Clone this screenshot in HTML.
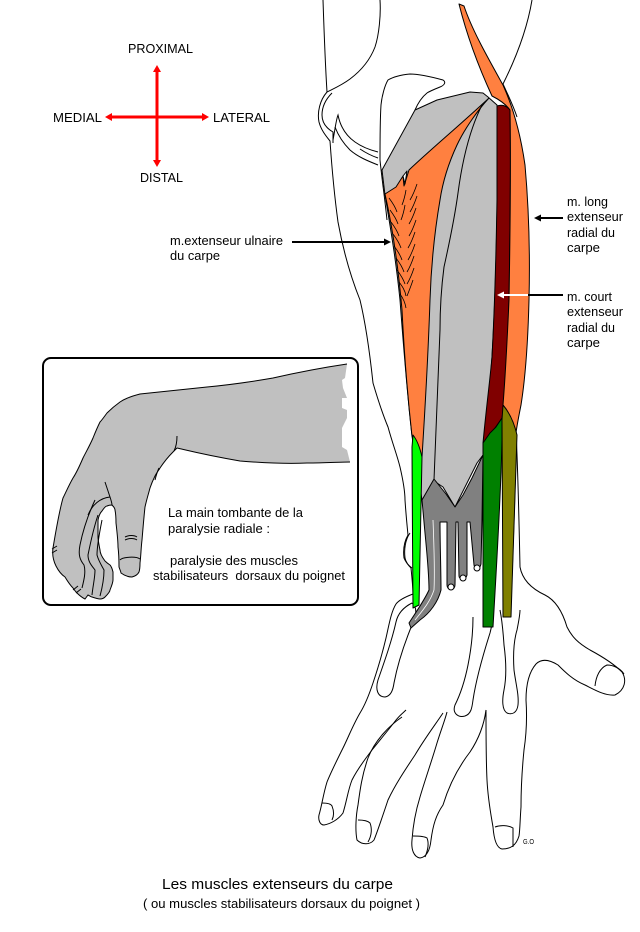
<!DOCTYPE html>
<html><head><meta charset="utf-8"><style>
html,body{margin:0;padding:0;background:#fff;}
svg{display:block;}
text{font-family:"Liberation Sans",Arial,sans-serif;fill:#000;}
</style></head><body>
<svg width="640" height="932" viewBox="0 0 640 932" xmlns="http://www.w3.org/2000/svg">
<rect width="640" height="932" fill="#fff"/>

<!-- compass -->
<g fill="#ff0000">
<rect x="155.5" y="70" width="3" height="92"/>
<rect x="110" y="115.5" width="94" height="3"/>
<polygon points="157,65 153,72 161,72"/>
<polygon points="157,167 153,160 161,160"/>
<polygon points="105,117 112,113 112,121"/>
<polygon points="209,117 202,113 202,121"/>
</g>
<text x="128" y="53" font-size="13" textLength="65" lengthAdjust="spacingAndGlyphs">PROXIMAL</text>
<text x="53" y="122" font-size="13" textLength="49" lengthAdjust="spacingAndGlyphs">MEDIAL</text>
<text x="213" y="122" font-size="13" textLength="57" lengthAdjust="spacingAndGlyphs">LATERAL</text>
<text x="140" y="182" font-size="13" textLength="43" lengthAdjust="spacingAndGlyphs">DISTAL</text>

<!-- line drawing: arm/hand outline -->
<g fill="none" stroke="#000" stroke-width="1">
<path d="M323,0 C324,30 325,60 327,92"/>
<path d="M380,0 C381,15 379,35 375,47 C370,60 362,70 350,79 C342,85 335,88 327,92 C320,100 317,112 319,122 C321,130 326,136 330,141 C332,170 335,200 338,222 C344,255 352,280 360,300 C366,325 370,355 373,383 C378,400 383,415 388,427 C393,445 397,455 400,467 C403,480 405,490 405,500 C406,515 407,525 408,535 C404,542 403,550 404,558 C406,563 409,566 411,568 C412,578 413,588 413,594 C405,597 399,600 396,604 C391,612 389,625 386,638 C382,655 378,668 373,683 C369,695 365,705 360,713 C353,725 348,738 343,748 C337,760 331,772 327,782 C323,795 322,805 319,815 C318,820 320,825 324,825 C330,824 338,820 343,813 C347,800 348,790 352,780 C358,768 366,758 372,750 C380,740 390,728 396,720 C400,715 404,712 406,710"/>
<path d="M410,533 C405,540 404,550 405,558 C406,563 409,566 412,568"/>
<path d="M332,93 C325,100 322,107 322,115 C322,123 326,128 333,132 L333,143"/>
<path d="M333,140 C335,130 336,120 338,115 C340,125 345,135 355,142 C362,147 370,150 378,152"/>
<path d="M335,127 C338,135 342,142 350,150 C358,157 368,161 378,165"/>
<path d="M360,149 C366,153 372,156 378,158"/>
<path d="M387,220 C385,200 382,180 380,160 C380,140 380,120 381,105 C382,95 385,85 388,80 C393,77 400,75 410,74 C420,74 432,77 443,80 C446,82 445,85 440,87 C435,89 430,91 427,93 C422,97 418,103 415,110"/>
<path d="M532,0 C527,30 515,60 503,84 C508,95 513,105 517,117"/>
<path d="M516,432 C518,470 519,520 520,567 C522,578 530,588 545,595 C555,600 562,610 567,627 C572,637 578,643 590,650 C603,657 615,665 622,672 C627,680 625,690 615,695 C605,696 595,690 585,685 C573,680 565,672 558,665 C550,660 542,658 536,664 C529,672 526,685 526,700 C527,715 527,730 524,750 C522,770 521,790 521,807 C520,820 520,830 519,836 C516,846 510,849 502,849 C497,848 494,840 493,827 C491,815 488,800 487,780 C486,760 486,735 486,710"/>
<path d="M486,710 C484,725 478,740 470,752 C460,765 450,782 443,805 C436,815 433,825 431,840 C430,850 427,857 420,858 C414,857 411,850 412,840 C413,825 416,810 420,797 C425,780 432,760 437,743 C441,730 445,720 447,712"/>
<path d="M443,713 C435,725 425,738 415,755 C405,770 395,785 388,800 C383,815 378,830 374,840 C370,845 362,845 357,840 C355,830 356,815 358,805 C360,790 362,775 368,758 C375,740 390,725 402,717"/>
<!-- nails -->
<path d="M322,803 C327,803 331,804 332,806 C334,811 334,816 332,820"/>
<path d="M358,820 C363,820 368,821 370,823 C372,828 372,835 368,842"/>
<path d="M413,836 C418,836 424,836 427,838 C429,843 428,850 425,857"/>
<path d="M495,827 C500,825 508,825 513,828 L513,847"/>
<path d="M595,686 C596,676 600,668 607,665 C613,665 620,668 624,674"/>
<!-- metacarpals -->
<path d="M412,603 C404,607 398,613 396,622 C392,640 385,660 378,680 C375,690 378,697 385,697 C391,696 393,690 394,683 C398,662 405,642 412,625 C416,616 418,608 412,603"/>
<path d="M473,617 C473,630 472,645 468,665 C465,680 460,695 455,705 C452,713 458,718 465,716 C471,714 472,708 473,700 C476,680 483,655 490,633 C492,625 493,620 492,615"/>
<path d="M500,610 C502,620 503,630 504,645 C506,660 507,675 504,690 C502,700 502,710 507,713 C512,715 517,713 518,705 C519,695 516,685 514,670 C513,655 514,640 517,630 C519,620 520,614 520,610"/>
</g>

<!-- muscles -->
<g stroke="#000" stroke-width="1" stroke-linejoin="round">
<!-- light gray base -->
<path fill="#c0c0c0" d="M415,110 L437,100 L470,92 L483,93 L488,97 L497,105 C498,150 497,220 496,260 C495,300 493,340 492,357 C489,400 486,430 483,455 L477,463 L470,477 L460,497 L455,507 L443,487 L437,483 L434,480 L425,500 L422,500 L412,436 C408,400 403,340 400,300 C396,260 390,225 385,195 L382,170 Z"/>
<!-- ECU orange -->
<path fill="#ff8040" d="M385,194 L396,187 L403,176 L404,186 L409,170 C430,150 460,125 489,98 C478,110 465,128 457,145 C450,160 443,180 440,200 C434,235 431,270 430,300 C428,360 425,410 422,457 L412,436 C408,400 404,350 402,310 C398,265 392,225 385,194 Z"/>
<!-- white notch -->
<path fill="#fff" d="M403,176 L407,171 L405,184 Z"/>
<!-- ED / EDM divider -->
<path fill="none" d="M482,105 C472,125 463,155 458,193 C455,215 450,240 444,267 C441,290 440,310 440,330 C438,380 436,430 434,480"/>
<!-- dark gray tendons -->
<path fill="#808080" d="M422,500 L434,479 L446,494 L455,507 L463,495 L472,478 L483,455 L482,520 L481,564 C480,569 475,570 474,565 L470,522 L467,522 L467,575 C466,580 459,580 459,576 L458,522 L456,522 L455,585 C455,591 447,591 447,585 L447,522 L440,522 C440,545 441,570 441,590 C438,602 430,613 420,620 L411,628 L409,623 C416,612 424,601 429,590 C429,570 426,545 424,522 Z"/>
<path fill="none" stroke="#fff" stroke-width="0.8" d="M433,520 C434,545 435,570 434,590 C430,602 423,610 415,620"/>
<circle cx="451" cy="587" r="3" fill="#fff"/>
<circle cx="463" cy="578" r="3" fill="#fff"/>
<circle cx="477" cy="568" r="3" fill="#fff"/>
<!-- ECRB dark red -->
<path fill="#800000" d="M497,106 C502,104 507,106 510,110 C511,160 510,240 509,300 C508,340 507,370 505,395 C504,405 503,412 502,418 L495,428 L483,443 C486,410 490,380 492,357 C494,320 496,260 497,200 Z"/>
<!-- ECRL orange -->
<path fill="#ff8040" d="M459,4 L464,6 C472,30 488,58 503,85 C512,105 520,130 525,165 C529,210 530,260 529,300 C528,340 525,380 521,405 C519,415 517,425 516,433 C513,425 508,412 503,405 C505,380 507,345 509,300 C510,240 511,160 510,110 C505,103 498,99 492,96 C480,70 468,40 459,4 Z"/>
<!-- olive -->
<path fill="#808000" d="M503,405 C509,412 514,422 517,435 C516,480 514,540 511,617 L503,617 C503,560 502,500 502,420 Z"/>
<!-- dark green -->
<path fill="#008000" d="M483,443 L490,433 L496,427 L502,418 L502,440 C501,490 497,560 493,627 L483,627 C483,570 483,500 483,443 Z"/>
<!-- bright green -->
<path fill="#00ff00" d="M413,435 C417,440 420,448 422,457 C421,500 420,560 419,605 L413,608 C413,560 412,500 412,447 Z"/>
</g>

<!-- ECU fibers -->
<g fill="none" stroke="#000" stroke-width="0.8">
<path d="M389,198 C392,202 395,206 397,212"/>
<path d="M390,210 C393,214 396,218 398,224"/>
<path d="M391,222 C394,226 397,230 399,236"/>
<path d="M393,234 C396,238 399,242 401,248"/>
<path d="M394,246 C397,250 400,254 402,260"/>
<path d="M396,258 C399,262 402,266 404,272"/>
<path d="M397,270 C400,274 403,278 405,284"/>
<path d="M399,282 C402,286 405,290 406,296"/>
<path d="M400,294 C403,298 405,302 406,308"/>
<path d="M417,184 C415,190 413,195 410,200"/>
<path d="M417,196 C415,202 413,207 410,212"/>
<path d="M416,208 C414,214 412,219 409,224"/>
<path d="M416,220 C414,226 412,231 409,236"/>
<path d="M415,232 C413,238 411,243 408,248"/>
<path d="M415,244 C413,250 411,255 408,260"/>
<path d="M414,256 C412,262 410,267 407,272"/>
<path d="M414,268 C412,274 410,279 407,284"/>
<path d="M413,280 C411,286 409,291 407,296"/>
<path d="M406,190 C405,196 404,200 402,205"/>
<path d="M405,205 C404,211 403,215 401,220"/>
</g>

<!-- label arrows -->
<g>
<rect x="292" y="241" width="93" height="2" fill="#000"/>
<polygon points="391,242 384,238.5 384,245.5" fill="#000"/>
<rect x="540" y="217" width="23" height="2" fill="#000"/>
<polygon points="534,218 541,214.5 541,221.5" fill="#000"/>
<rect x="528" y="294" width="35" height="2" fill="#000"/>
<rect x="503" y="294" width="25" height="2" fill="#fff"/>
<polygon points="497,295 504,291.5 504,298.5" fill="#fff"/>
</g>

<text x="170" y="245" font-size="13" textLength="113" lengthAdjust="spacingAndGlyphs">m.extenseur ulnaire</text>
<text x="170" y="260" font-size="13" textLength="50" lengthAdjust="spacingAndGlyphs">du carpe</text>

<text x="567" y="206" font-size="13" textLength="41" lengthAdjust="spacingAndGlyphs">m. long</text>
<text x="567" y="221" font-size="13" textLength="56" lengthAdjust="spacingAndGlyphs">extenseur</text>
<text x="567" y="237" font-size="13" textLength="48" lengthAdjust="spacingAndGlyphs">radial du</text>
<text x="567" y="252" font-size="13" textLength="33" lengthAdjust="spacingAndGlyphs">carpe</text>

<text x="567" y="301" font-size="13" textLength="45" lengthAdjust="spacingAndGlyphs">m. court</text>
<text x="567" y="316" font-size="13" textLength="56" lengthAdjust="spacingAndGlyphs">extenseur</text>
<text x="567" y="332" font-size="13" textLength="48" lengthAdjust="spacingAndGlyphs">radial du</text>
<text x="567" y="347" font-size="13" textLength="33" lengthAdjust="spacingAndGlyphs">carpe</text>

<!-- inset -->
<rect x="43" y="358" width="315" height="247" rx="8" ry="8" fill="#fff" stroke="#000" stroke-width="2"/>
<path fill="#c0c0c0" d="M347,364 C320,368 295,373 273,378 C250,382 228,385 207,387 C180,390 160,392 140,394 C132,396 126,398 120,402 C113,407 109,411 107,413 C104,417 102,420 100,422 C97,428 95,433 93,438 C90,445 86,452 83,458 C80,465 77,472 73,478 C69,485 66,492 63,498 C59,512 56,530 53,548 C52,555 53,560 56,566 C59,572 62,575 65,577 C68,582 71,586 73,588 C75,591 76,592 77,593 C80,596 83,598 85,599 L88,595 C90,596 91,597 92,597 C95,598 98,599 100,599 C102,599 104,598 105,597 C108,594 110,591 110,590 C112,585 113,581 113,580 C113,576 113,573 113,572 C112,568 111,566 110,565 C107,563 106,562 105,561 C102,557 100,553 100,550 C99,545 98,540 98,537 C98,530 98,524 98,520 C99,515 101,512 102,511 C104,508 106,506 107,506 C109,505 111,505 112,505 C114,507 115,509 115,510 C116,515 116,520 116,523 C117,532 118,540 118,547 C119,555 119,562 119,567 C120,570 121,572 121,573 C125,576 129,577 132,577 C136,576 138,574 139,572 C140,569 140,566 140,563 C141,555 141,548 142,540 C143,528 144,516 145,507 C147,498 149,492 150,488 C152,482 154,478 155,476 C157,472 159,470 160,468 C164,462 169,456 173,452 C175,450 176,449 177,448 C190,451 205,455 240,461 C265,463 285,464 307,463 C325,463 340,462 350,462 L347,450 L342,447 L342,428 L347,418 L347,410 L342,408 L342,398 L347,398 L343,388 L342,380 L345,378 Z"/>
<g fill="none" stroke="#000" stroke-width="1">
<path d="M347,364 C320,368 295,373 273,378 C250,382 228,385 207,387 C180,390 160,392 140,394 C132,396 126,398 120,402 C113,407 109,411 107,413 C104,417 102,420 100,422 C97,428 95,433 93,438 C90,445 86,452 83,458 C80,465 77,472 73,478 C69,485 66,492 63,498 C59,512 56,530 53,548 C52,555 53,560 56,566 C59,572 62,575 65,577 C68,582 71,586 73,588 C75,591 76,592 77,593 C80,596 83,598 85,599 L88,595 C90,596 91,597 92,597 C95,598 98,599 100,599 C102,599 104,598 105,597 C108,594 110,591 110,590 C112,585 113,581 113,580 C113,576 113,573 113,572 C112,568 111,566 110,565 C107,563 106,562 105,561 C102,557 100,553 100,550 C99,545 98,540 98,537 C98,530 98,524 98,520 C99,515 101,512 102,511 C104,508 106,506 107,506 C109,505 111,505 112,505 C114,507 115,509 115,510 C116,515 116,520 116,523 C117,532 118,540 118,547 C119,555 119,562 119,567 C120,570 121,572 121,573 C125,576 129,577 132,577 C136,576 138,574 139,572 C140,569 140,566 140,563 C141,555 141,548 142,540 C143,528 144,516 145,507 C147,498 149,492 150,488 C152,482 154,478 155,476 C157,472 159,470 160,468 C164,462 169,456 173,452 C175,450 176,449 177,448 C190,451 205,455 240,461 C265,463 285,464 307,463 C325,463 340,462 350,462"/>
<path d="M105,482 C107,488 109,494 110,497 C111,500 112,503 112,505"/>
<path d="M88,515 C92,505 100,498 110,497"/>
<path d="M95,500 C88,515 83,530 80,545 C78,555 80,560 84,565 C86,572 84,580 82,588"/>
<path d="M98,515 C93,530 90,545 88,555 C88,562 92,566 95,570 C95,578 93,585 92,595"/>
<path d="M102,520 C99,535 97,548 97,555 C99,562 102,566 104,570 C104,578 103,585 100,596"/>
<path d="M120,560 C122,557 136,556 140,559"/>
<path d="M125,537 C129,535 134,535 137,537"/>
<path d="M125,540 C129,538 134,538 137,540"/>
<path d="M177,436 C177,442 176,447 174,451"/>
<path d="M159,468 C157,472 156,476 155,480"/>
<path d="M52,549 L57,546 M52,553 L57,550"/>
<path d="M73,590 L78,586 M76,593 L81,589"/>
</g>
<text x="168" y="517" font-size="13" textLength="135" lengthAdjust="spacingAndGlyphs">La main tombante de la</text>
<text x="168" y="533" font-size="13" textLength="102" lengthAdjust="spacingAndGlyphs">paralysie radiale :</text>
<text x="170" y="565" font-size="13" textLength="128" lengthAdjust="spacingAndGlyphs">paralysie des muscles</text>
<text x="153" y="580" font-size="13" textLength="192" lengthAdjust="spacingAndGlyphs" style="white-space:pre" xml:space="preserve">stabilisateurs  dorsaux du poignet</text>

<!-- signature -->
<text x="523" y="844" font-size="7" textLength="11" lengthAdjust="spacingAndGlyphs">G.O</text>

<!-- caption -->
<text x="162" y="889" font-size="15" textLength="231" lengthAdjust="spacingAndGlyphs">Les muscles extenseurs du carpe</text>
<text x="143" y="908" font-size="12.5" textLength="277" lengthAdjust="spacingAndGlyphs">( ou muscles stabilisateurs dorsaux du poignet )</text>
</svg>
</body></html>
